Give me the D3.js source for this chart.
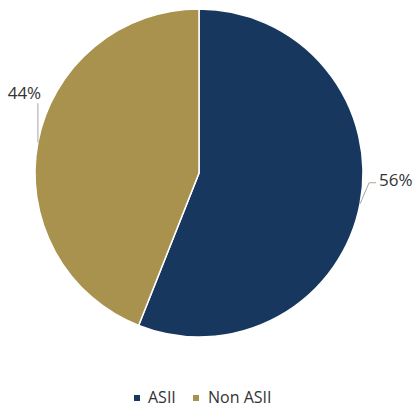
<!DOCTYPE html>
<html><head><meta charset="utf-8">
<script src="https://cdn.jsdelivr.net/npm/d3@7"></script>
<style>body{margin:0;background:#fff}svg{display:block}text{font-family:"Open Sans","Liberation Sans",sans-serif;fill:#333}</style>
</head><body>
<svg id="c" width="414" height="410"></svg>
<script>
const categories = ["ASII", "Non ASII"];
const values = [56, 44];
const labels = ["56%", "44%"];
const colors = ["#17375E", "#A8924E"];

const svg = d3.select("#c");
const cx = 199, cy = 173, r = 164;
const g = svg.append("g").attr("transform", `translate(${cx},${cy})`);
const pie = d3.pie().sort(null).value(d => d)(values);
const arc = d3.arc().innerRadius(0).outerRadius(r);
g.selectAll("path").data(pie).enter().append("path")
  .attr("d", arc).attr("fill", (d, i) => colors[i])
  .attr("stroke", "#fff").attr("stroke-width", 1.5);

// leader lines + labels
const lab = [
  {pts: [[9, -21], [16, -21]], tx: 19, ty: -18, anchor: "start"},
  {pts: [[0, -39]], tx: -13.5, ty: -43, anchor: "middle"}
];
pie.forEach((d, i) => {
  const a = (d.startAngle + d.endAngle) / 2;
  const ex = r * Math.sin(a), ey = -r * Math.cos(a);
  const L = lab[i];
  const pts = [[ex, ey]].concat(L.pts.map(p => [ex + p[0], ey + p[1]]));
  g.append("path").attr("d", d3.line()(pts)).attr("fill", "none")
    .attr("stroke", "#a6a6a6").attr("stroke-width", 1);
  g.append("text").attr("x", ex + L.tx).attr("y", ey + L.ty)
    .attr("text-anchor", L.anchor).attr("font-size", 17).text(labels[i]);
});

// legend
const leg = svg.append("g");
const lx = [134, 193];
const tx = [148, 208];
categories.forEach((c, i) => {
  leg.append("rect").attr("x", lx[i]).attr("y", 395).attr("width", 6).attr("height", 6).attr("fill", colors[i]);
  leg.append("text").attr("x", tx[i]).attr("y", 403).attr("font-size", 16).text(c);
});
</script>
</body></html>
